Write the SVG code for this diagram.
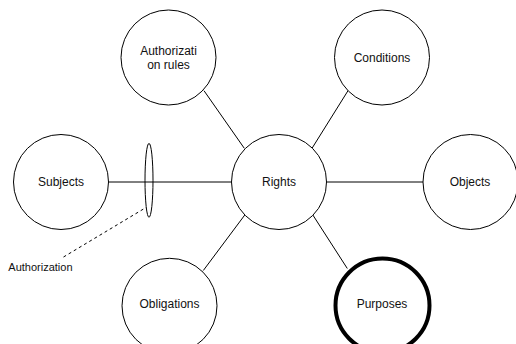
<svg xmlns="http://www.w3.org/2000/svg" width="516" height="344" viewBox="0 0 516 344">
<style>
.n{fill:#fff;stroke:#000;stroke-width:1}
.thick{fill:#fff;stroke:#000;stroke-width:4}
.t{font-family:"Liberation Sans",Arial,sans-serif;font-size:12px;fill:#111;text-anchor:middle}
.lbl{font-family:"Liberation Sans",Arial,sans-serif;font-size:11px;fill:#111}
.e{stroke:#000;stroke-width:1;fill:none}
.d{stroke:#000;stroke-width:1;fill:none;stroke-dasharray:3 3}
</style>
<rect width="516" height="344" fill="#fff"/>
<g id="connectors">
<line class="e" x1="204" y1="90.7" x2="244.3" y2="148.3"/>
<line class="e" x1="348" y1="90.7" x2="312" y2="148.3"/>
<line class="e" x1="108.5" y1="182" x2="231.5" y2="182"/>
<line class="e" x1="326.5" y1="182" x2="423" y2="182"/>
<line class="e" x1="203.3" y1="270.5" x2="245" y2="214.7"/>
<line class="e" x1="312" y1="213.7" x2="347.3" y2="268.5"/>
<path class="d" d="M63.5 257 L146 207.5"/>
</g>
<g id="authorization">
<ellipse class="e" cx="149" cy="180.3" rx="4" ry="37"/>
<text class="lbl" x="8.3" y="271">Authorization</text>
</g>
<g id="authorization-rules">
<circle class="n" cx="168.5" cy="57.5" r="47.5"/>
<text class="t" x="168.5" y="55.3">Authorizati</text>
<text class="t" x="168.5" y="68.8">on rules</text>
</g>
<g id="conditions">
<circle class="n" cx="382" cy="57.5" r="47.5"/>
<text class="t" x="382" y="61.5">Conditions</text>
</g>
<g id="subjects">
<circle class="n" cx="61" cy="182" r="47.5"/>
<text class="t" x="61" y="186">Subjects</text>
</g>
<g id="rights">
<circle class="n" cx="279" cy="182" r="47.5"/>
<text class="t" x="279" y="186">Rights</text>
</g>
<g id="objects">
<circle class="n" cx="470.5" cy="182" r="47.5"/>
<text class="t" x="470" y="185.5">Objects</text>
</g>
<g id="obligations">
<circle class="n" cx="169.5" cy="305.8" r="47.5"/>
<text class="t" x="169.5" y="308.3">Obligations</text>
</g>
<g id="purposes">
<circle class="thick" cx="382.5" cy="305.5" r="47"/>
<text class="t" x="382" y="308.3">Purposes</text>
</g>
</svg>
